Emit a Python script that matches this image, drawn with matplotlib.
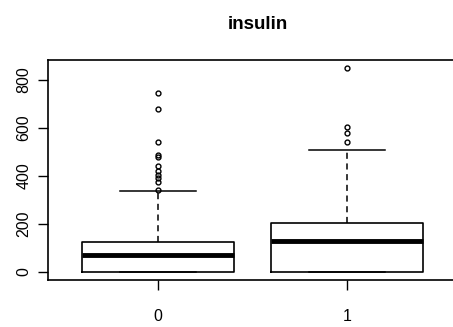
import matplotlib
matplotlib.use("Agg")
import matplotlib.pyplot as plt

plt.rcParams['font.family'] = ['Liberation Sans', 'DejaVu Sans']

# values
groups = ['0', '1']
q1 = [0, 0]
median = [72, 127]
q3 = [125, 204]
whislo = [0, 0]
whishi = [335, 506]
fliers = [
    [744, 680, 540, 485, 478, 440, 418, 402, 390, 376, 342],
    [848, 601, 577, 540],
]

stats = []
for i, g in enumerate(groups):
    stats.append(dict(label=g, q1=q1[i], med=median[i], q3=q3[i],
                      whislo=whislo[i], whishi=whishi[i], fliers=fliers[i]))

fig = plt.figure(figsize=(4.53, 3.27), dpi=100)
ax = fig.add_axes([48 / 453, 47 / 327, 420 / 453, 220 / 327])

ax.bxp(stats, positions=[1, 2], widths=0.8,
       boxprops=dict(color='black', linewidth=1.2),
       medianprops=dict(color='black', linewidth=3.5, solid_capstyle='butt'),
       whiskerprops=dict(color='black', linewidth=1.1, linestyle=(0, (4, 3))),
       capprops=dict(color='black', linewidth=1.1),
       capwidths=0.4,
       flierprops=dict(marker='o', markersize=3.5, markerfacecolor='none',
                       markeredgecolor='black', markeredgewidth=1.0))

# x range chosen so the frame runs off the right edge like the reference
ax.set_xlim(0.42, 2.638)
ax.set_ylim(-34, 882)
ax.set_yticks([0, 200, 400, 600, 800])
ax.set_xticks([1, 2])
ax.set_xticklabels(groups)
for lbl in ax.get_yticklabels():
    lbl.set_rotation(90)
    lbl.set_verticalalignment('center')
ax.tick_params(direction='out', length=7, width=1, labelsize=11.5)
ax.tick_params(axis='x', pad=14)
ax.tick_params(axis='y', pad=5)
for s in ax.spines.values():
    s.set_linewidth(1.2)
ax.spines['right'].set_visible(False)

ax.set_title('insulin', fontsize=13.5, fontweight='bold', pad=22)

fig.savefig('out.png', dpi=100)
